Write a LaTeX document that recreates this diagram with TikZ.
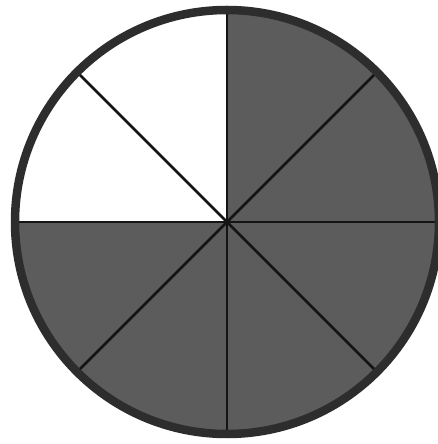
\documentclass[tikz,border=0pt]{standalone}
\usetikzlibrary{calc}
\definecolor{sector}{RGB}{92,92,92}
\definecolor{ring}{RGB}{45,45,45}
\definecolor{spoke}{RGB}{20,20,20}
\tikzset{
  spokeline/.style={draw=spoke, line width=2.6pt},
  ringline/.style={draw=ring, line width=8.5pt},
  shaded/.style={fill=sector},
}
\begin{document}
\begin{tikzpicture}[x=1pt,y=1pt]
\useasboundingbox (0,0) rectangle (437,444);
\fill[white] (0,0) rectangle (437,444);
\coordinate (c) at (227,222);
% shaded sectors: from -180 to 90 (counter-clockwise through the bottom and right)
\fill[shaded] (c) -- ++(180:212) arc[start angle=180, end angle=450, radius=212] -- cycle;
% spokes
\foreach \a in {0,45,...,315} {
  \coordinate (e\a) at ($(c)+(\a:212)$);
}
\foreach \a in {0,45,...,315} {
  \draw[spokeline] (c) -- (e\a);
}
% outer ring
\draw[ringline] (c) circle[radius=212];
\end{tikzpicture}
\end{document}
